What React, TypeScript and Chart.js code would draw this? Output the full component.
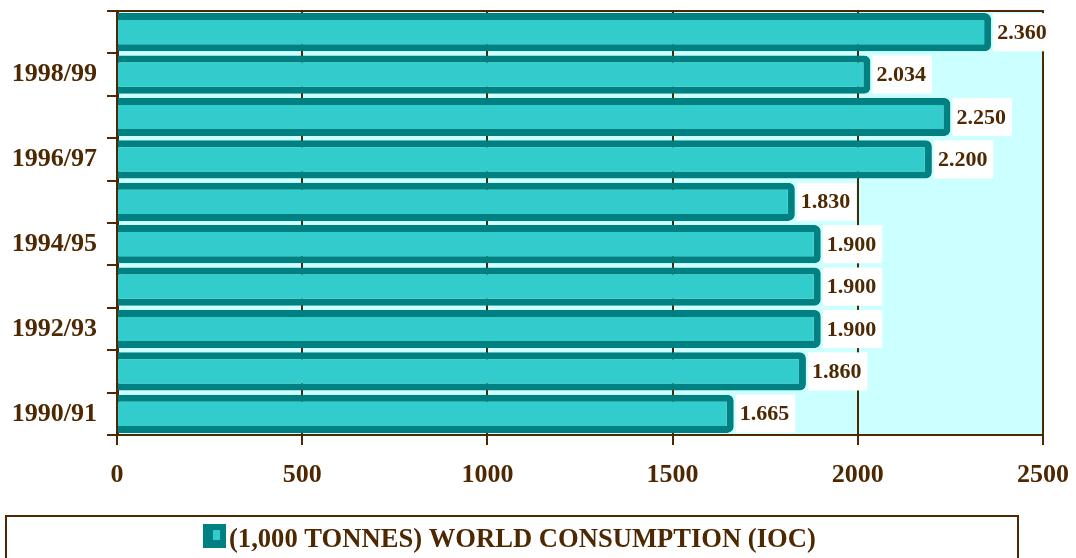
import React, { useEffect, useRef } from "react";
import { Chart, registerables } from "chart.js";

Chart.register(...registerables);

const seasons = ["1999/00", "1998/99", "1997/98", "1996/97", "1995/96", "1994/95", "1993/94", "1992/93", "1991/92", "1990/91"];
const consumption = [2360, 2034, 2250, 2200, 1830, 1900, 1900, 1900, 1860, 1665];
const xTicks = [0, 500, 1000, 1500, 2000, 2500];
const seriesLabel = "(1,000 TONNES) WORLD CONSUMPTION (IOC)";

const BROWN = "#4D2800";
const FILL = "#33CCCC";
const EDGE = "#008080";
const PLOT_BG = "#CCFFFF";
const SERIF = "'Liberation Serif', 'Times New Roman', serif";

const decor = {
  id: "decor",
  beforeDraw(chart: any) {
    const { ctx, chartArea } = chart;
    ctx.save();
    ctx.fillStyle = "#ffffff";
    ctx.fillRect(0, 0, chart.width, chart.height);
    ctx.fillStyle = PLOT_BG;
    ctx.fillRect(chartArea.left, chartArea.top, chartArea.right - chartArea.left, chartArea.bottom - chartArea.top);
    ctx.restore();
  },
  beforeDatasetsDraw(chart: any) {
    const { ctx, chartArea } = chart;
    ctx.save();
    ctx.strokeStyle = BROWN;
    ctx.lineWidth = 2;
    ctx.beginPath();
    ctx.moveTo(chartArea.left - 10, chartArea.top);
    ctx.lineTo(chartArea.right + 1, chartArea.top);
    ctx.stroke();
    ctx.restore();
  },
  afterDatasetsDraw(chart: any) {
    const { ctx } = chart;
    const meta = chart.getDatasetMeta(0);
    const data = chart.data.datasets[0].data as number[];
    ctx.save();
    ctx.font = `bold 22px ${SERIF}`;
    ctx.textBaseline = "middle";
    ctx.textAlign = "left";
    meta.data.forEach((bar: any, i: number) => {
      const p = bar.getProps(["x", "y", "height"], true);
      const txt = (data[i] / 1000).toFixed(3);
      const w = ctx.measureText(txt).width;
      const x0 = p.x + 2;
      ctx.fillStyle = "#ffffff";
      ctx.fillRect(x0, p.y - p.height / 2, w + 10, p.height);
      ctx.fillStyle = BROWN;
      ctx.fillText(txt, x0 + 4, p.y + 1);
    });
    ctx.restore();
  },
  afterDraw(chart: any) {
    const { ctx } = chart;
    ctx.save();
    ctx.strokeStyle = BROWN;
    ctx.lineWidth = 2;
    ctx.strokeRect(6, 516, 1012, 80);
    ctx.fillStyle = EDGE;
    ctx.fillRect(203, 524, 23, 24);
    ctx.fillStyle = FILL;
    ctx.fillRect(213, 530, 7, 10);
    ctx.fillStyle = BROWN;
    ctx.font = `bold 26.6px ${SERIF}`;
    ctx.textBaseline = "alphabetic";
    ctx.textAlign = "left";
    ctx.fillText(chart.data.datasets[0].label, 229, 547);
    ctx.restore();
  },
};

export default function App() {
  const ref = useRef<HTMLCanvasElement>(null);
  useEffect(() => {
    document.body.style.margin = "0";
    const chart = new Chart(ref.current!, {
      type: "bar",
      data: {
        labels: seasons,
        datasets: [
          {
            label: seriesLabel,
            data: consumption,
            backgroundColor: FILL,
            borderColor: EDGE,
            borderWidth: 7,
            borderRadius: 6,
            borderSkipped: "start",
            categoryPercentage: 1,
            barPercentage: 0.9,
          },
        ],
      },
      options: {
        indexAxis: "y",
        responsive: false,
        animation: false,
        layout: { padding: { top: 11, right: 33, left: 0, bottom: 0 } },
        plugins: { legend: { display: false }, tooltip: { enabled: false } },
        scales: {
          x: {
            type: "linear",
            min: xTicks[0],
            max: xTicks[xTicks.length - 1],
            afterFit: (s: any) => {
              s.height = 123;
              s.paddingLeft = 0;
              s.paddingRight = 0;
            },
            afterBuildTicks: (s: any) => { s.ticks = xTicks.map((v) => ({ value: v })); },
            border: { display: true, color: BROWN, width: 2 },
            grid: { color: BROWN, lineWidth: 2, tickLength: 10, drawTicks: true },
            ticks: {
              color: BROWN,
              font: { family: SERIF, size: 26, weight: "bold" },
              padding: 15,
              callback: (v: any) => String(v),
            },
          },
          y: {
            type: "category",
            offset: true,
            afterFit: (s: any) => {
              s.width = 117;
              s.paddingTop = 0;
              s.paddingBottom = 0;
            },
            border: { display: true, color: BROWN, width: 3 },
            grid: { offset: true, drawOnChartArea: false, color: BROWN, lineWidth: 2, tickLength: 10 },
            ticks: {
              autoSkip: false,
              color: BROWN,
              font: { family: SERIF, size: 26, weight: "bold" },
              padding: 10,
              callback: (_v: any, i: number) => (i % 2 === 1 ? seasons[i] : ""),
            },
          },
        },
      },
      plugins: [decor],
    });
    return () => chart.destroy();
  }, []);
  return (
    <div style={{ position: "fixed", left: 0, top: 0, width: 1076, height: 558 }}>
      <canvas ref={ref} width={1076} height={558} style={{ display: "block" }} />
    </div>
  );
}
